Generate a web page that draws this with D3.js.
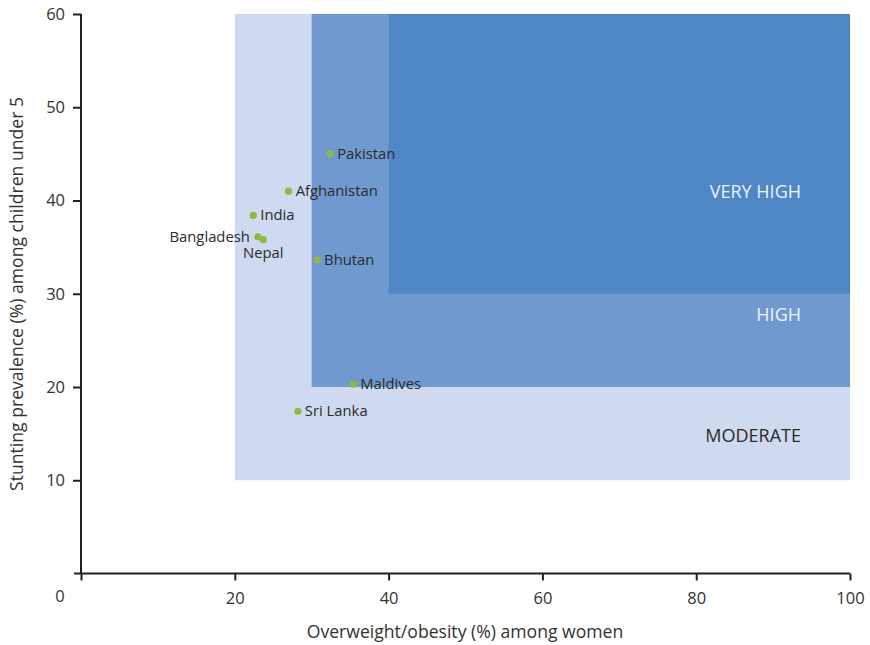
<!DOCTYPE html>
<html><head><meta charset="utf-8">
<script src="https://cdn.jsdelivr.net/npm/d3@7"></script>
<style>body{margin:0;background:#fff;} text{font-family:"Open Sans",Lato,sans-serif;}</style>
</head><body>
<svg id="c" width="870" height="645"></svg>
<script>
const countries = ["Pakistan","Afghanistan","India","Bangladesh","Nepal","Bhutan","Maldives","Sri Lanka"];
const overweight = [32.4, 27.0, 22.4, 23.0, 23.7, 30.7, 35.4, 28.2];
const stunting = [45.0, 41.0, 38.4, 36.1, 35.8, 33.6, 20.3, 17.4];
const labelPos = ["right","right","right","left","below","right","right","right"];
const zoneNames = ["MODERATE","HIGH","VERY HIGH"];
const zoneXmin = [20, 30, 40];
const zoneYmin = [10, 20, 30];
const zoneColors = ["#cfd9ef","#7099d0","#4f86c6"];
const zoneTextColors = ["#2b2b2b","#eef3fb","#eef3fb"];
const zoneLabelY = [14.8, 27.8, 41.0];
const xTicks = [0,20,40,60,80,100];
const yTicks = [10,20,30,40,50,60];

const svg = d3.select("#c");
const x = d3.scaleLinear().domain([0,100]).range([81,850]);
const y = d3.scaleLinear().domain([0,60]).range([573.5,14]);

zoneNames.forEach((n,i)=>{
  svg.append("rect").attr("x",x(zoneXmin[i])).attr("y",y(60))
    .attr("width",x(100)-x(zoneXmin[i])).attr("height",y(zoneYmin[i])-y(60))
    .attr("fill",zoneColors[i]);
});
zoneNames.forEach((n,i)=>{
  svg.append("text").attr("x",801).attr("y",y(zoneLabelY[i])).attr("text-anchor","end")
    .attr("dominant-baseline","central").attr("font-size",18).attr("fill",zoneTextColors[i]).text(n);
});

// axes
const ax = svg.append("g").attr("transform",`translate(0,${y(0)})`)
  .call(d3.axisBottom(x).tickValues(xTicks).tickSize(7).tickSizeOuter(0).tickFormat(d=>d===0?"":d));
const ay = svg.append("g").attr("transform",`translate(${x(0)},0)`)
  .call(d3.axisLeft(y).tickValues(yTicks).tickSize(8).tickSizeOuter(0));
[ax,ay].forEach(g=>{
  g.selectAll("path,line").attr("stroke","#231f20").attr("stroke-width",2);
  g.selectAll("text").attr("fill","#333").attr("font-size",16.5).attr("font-family","'Open Sans',sans-serif");
});
ax.select("path.domain").attr("d",`M${x(0)-7},0H${x(100)}`);
ay.select("path.domain").attr("d",`M0,${y(0)}V${y(60)}`);
ax.selectAll("text").attr("dy","1.25em");
ay.selectAll("text").attr("dx","-0.3em");
svg.append("text").attr("x",60).attr("y",602).attr("text-anchor","middle")
  .attr("fill","#333").attr("font-size",16.5).text("0");

// titles
svg.append("text").attr("x",465).attr("y",638).attr("text-anchor","middle")
  .attr("fill","#333").attr("font-size",17.6).text("Overweight/obesity (%) among women");
svg.append("text").attr("transform","translate(23,294) rotate(-90)").attr("text-anchor","middle")
  .attr("fill","#333").attr("font-size",17.6).text("Stunting prevalence (%) among children under 5");

// points
countries.forEach((c,i)=>{
  const px = x(overweight[i]), py = y(stunting[i]);
  svg.append("circle").attr("cx",px).attr("cy",py).attr("r",3.6).attr("fill","#8dbb3f");
  const t = svg.append("text").attr("font-size",14.8).attr("fill","#2b2b2b").text(c);
  if (labelPos[i]==="right") t.attr("x",px+7).attr("y",py-1).attr("dominant-baseline","central");
  else if (labelPos[i]==="left") t.attr("x",px-8).attr("y",py-1).attr("text-anchor","end").attr("dominant-baseline","central");
  else t.attr("x",px).attr("y",py+12).attr("text-anchor","middle").attr("dominant-baseline","central");
});
</script>
</body></html>
